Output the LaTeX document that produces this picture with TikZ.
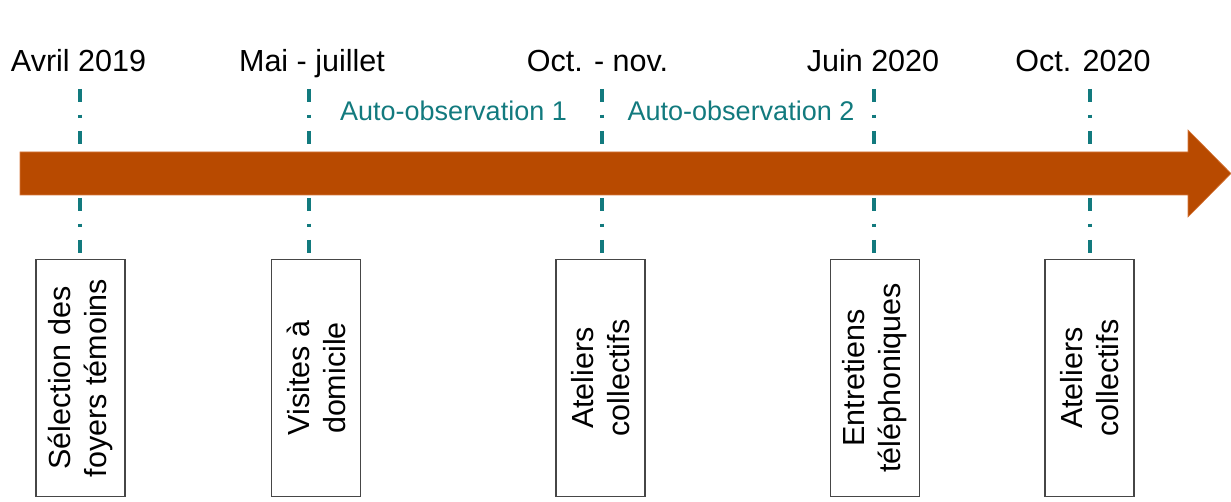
\documentclass[tikz,border=0pt]{standalone}
\usepackage{fontspec}
\setmainfont{Liberation Sans}
\definecolor{arroworange}{RGB}{184,74,0}
\definecolor{arrowedge}{RGB}{214,120,60}
\definecolor{tealline}{RGB}{18,122,126}
\definecolor{boxgray}{RGB}{70,70,70}
\begin{document}
\begin{tikzpicture}[x=1pt,y=1pt,
  datelabel/.style={anchor=base,font=\fontsize{30.5}{35}\selectfont,text=black,inner sep=0pt},
  phaselabel/.style={anchor=base,font=\fontsize{27}{32}\selectfont,text=tealline,inner sep=0pt},
  stepbox/.style={draw=boxgray,line width=1.2pt,rotate=90,minimum width=237pt,minimum height=89pt,
    align=center,font=\fontsize{30.5}{36}\selectfont,inner sep=0pt},
  tick/.style={draw=tealline,line width=3.6pt,dash pattern=on 12.7pt off 13pt on 3.3pt off 13pt}]
\useasboundingbox (0,0) rectangle (1231,502);
% timeline arrow
\fill[arroworange,draw=arrowedge,line width=0.6pt] (20,307) -- (1188,307) -- (1188,285) -- (1231,328.5) -- (1188,372) -- (1188,350) -- (20,350) -- cycle;
% date labels
\node[datelabel] (d1) at (78.5,430) {Avril 2019};
\node[datelabel] (d2) at (312,430) {Mai - juillet};
\node[datelabel] (d3) at (597.5,430) {Oct. - nov.};
\node[datelabel] (d4) at (873,430) {Juin 2020};
\node[datelabel] (d5) at (1083,430) {Oct. 2020};
% phase labels
\node[phaselabel] (p1) at (453.5,381.3) {Auto-observation 1};
\node[phaselabel] (p2) at (741,381.3) {Auto-observation 2};
% boxes
\node[stepbox] (b1) at (80.5,124) {Sélection des\\foyers témoins};
\node[stepbox] (b2) at (316,124) {Visites à\\domicile};
\node[stepbox] (b3) at (600.5,124) {Ateliers\\collectifs};
\node[stepbox] (b4) at (875,124) {Entretiens\\téléphoniques};
\node[stepbox] (b5) at (1089.5,124) {Ateliers\\collectifs};
% tick coordinates
\foreach \i/\x in {1/80,2/309,3/602,4/874,5/1090}{
  \coordinate (ut\i) at (\x,413);
  \coordinate (ub\i) at (\x,357);
  \coordinate (lt\i) at (\x,304);
  \coordinate (lb\i) at (\x,248);
  \draw[tick] (ut\i) -- (ub\i);
  \draw[tick] (lt\i) -- (lb\i);
}
\end{tikzpicture}
\end{document}
